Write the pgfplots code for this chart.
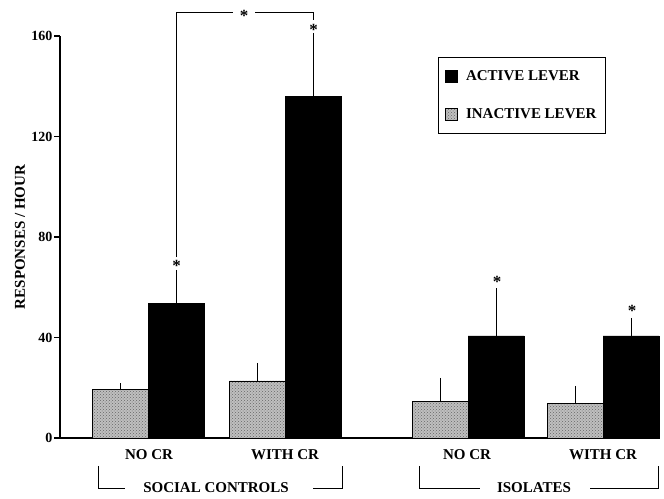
\documentclass[border=0pt]{standalone}
\usepackage{pgfplots}
\pgfplotsset{compat=1.18}
\usetikzlibrary{patterns}
\usepackage{fontspec}
\setmainfont{Liberation Serif}

\newcommand{\lblfont}{\fontsize{15}{17}\selectfont\bfseries}
\newcommand{\tickfont}{\fontsize{14}{16}\selectfont\bfseries}
\newcommand{\starfont}{\fontsize{17}{19}\selectfont\bfseries}

\begin{document}
\begin{tikzpicture}
\begin{axis}[
  at={(60pt,60pt)}, anchor=south west,
  scale only axis, width=600pt, height=402pt,
  xmin=60, xmax=660, ymin=0, ymax=160,
  axis x line=bottom, axis y line=left,
  axis line style={-, line width=1.2pt},
  xtick=\empty,
  ytick={0,40,80,120,160},
  tick align=outside, major tick length=6pt,
  tick style={line width=1.2pt, black},
  yticklabel style={font=\tickfont, inner sep=1.5pt},
  /pgf/number format/assume math mode=true,
  ylabel={RESPONSES / HOUR},
  ylabel style={at={(axis description cs:-0.0667,0.5)}, anchor=center, font=\lblfont},
  clip=false,
  ybar, bar width=56, bar shift=0pt,
  legend image code/.code={\draw[#1] (0pt,-6pt) rectangle (12pt,6pt);},
  legend style={at={(axis description cs:0.63,0.9478)}, anchor=north west,
    draw=black, line width=0.8pt, font=\lblfont,
    inner xsep=7pt, inner ysep=11.5pt, row sep=22pt,
    /tikz/every odd column/.append style={column sep=6pt}},
  legend cell align=left,
]
% active lever
\addplot[fill=black, draw=black, line width=0.5pt,
  error bars/.cd, y dir=plus, y explicit, error mark=none,
  error bar style={line width=0.8pt, black}]
  coordinates {(176.5,53.7) +- (0,13.2) (313.5,136.1) +- (0,25.1)
               (496,40.6) +- (0,19.1) (631,40.6) +- (0,7.2)};
\addlegendentry{ACTIVE LEVER}
% inactive lever
\addplot[fill=black!25, draw=black, line width=0.6pt,
  postaction={pattern=crosshatch dots, pattern color=black!60},
  error bars/.cd, y dir=plus, y explicit, error mark=none,
  error bar style={line width=0.8pt, black}]
  coordinates {(120,19.4) +- (0,2.4) (257,22.7) +- (0,7.2)
               (440,14.7) +- (0,9.2) (575,13.9) +- (0,6.8)};
\addlegendentry{INACTIVE LEVER}

% significance bracket between social-control groups
\draw[line width=0.8pt] (axis cs:176.5,72.0) -- (axis cs:176.5,169.2) -- (axis cs:233,169.2);
\draw[line width=0.8pt] (axis cs:255,169.2) -- (axis cs:313.5,169.2) -- (axis cs:313.5,166.4);
\node[font=\starfont, yshift=-3.5pt] at (axis cs:244,169.2) {*};
\node[font=\starfont, yshift=-3.5pt] at (axis cs:313.5,163.7) {*};
\node[font=\starfont, yshift=-3.5pt] at (axis cs:176.5,69.7) {*};
\node[font=\starfont, yshift=-3.5pt] at (axis cs:497,63.7) {*};
\node[font=\starfont, yshift=-3.5pt] at (axis cs:632,52.1) {*};

% condition labels
\node[font=\lblfont] at (axis cs:149,-6.8) {NO CR};
\node[font=\lblfont] at (axis cs:285,-6.8) {WITH CR};
\node[font=\lblfont] at (axis cs:467,-6.8) {NO CR};
\node[font=\lblfont] at (axis cs:603,-6.8) {WITH CR};

% group brackets
\draw[line width=0.8pt] (axis cs:98,-11.1) -- (axis cs:98,-19.9) -- (axis cs:125,-19.9);
\draw[line width=0.8pt] (axis cs:313,-19.9) -- (axis cs:342,-19.9) -- (axis cs:342,-11.1);
\node[font=\lblfont] at (axis cs:216,-19.9) {SOCIAL CONTROLS};
\draw[line width=0.8pt] (axis cs:419,-11.1) -- (axis cs:419,-19.9) -- (axis cs:480,-19.9);
\draw[line width=0.8pt] (axis cs:590,-19.9) -- (axis cs:658,-19.9) -- (axis cs:658,-11.1);
\node[font=\lblfont] at (axis cs:534,-19.9) {ISOLATES};
\end{axis}
\pgfresetboundingbox
\path[use as bounding box] (0pt,0pt) rectangle (664pt,498pt);
\end{tikzpicture}
\end{document}
